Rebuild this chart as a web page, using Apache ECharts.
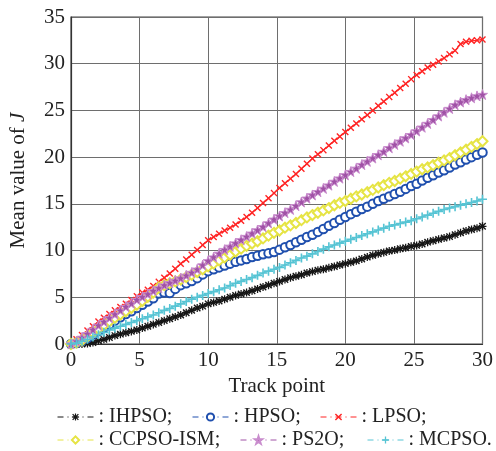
<!DOCTYPE html>
<html>
<head>
<meta charset="utf-8">
<script src="https://cdn.jsdelivr.net/npm/echarts@6/dist/echarts.min.js"></script>
<style>
  html, body { margin: 0; padding: 0; background: #fff; }
  #chart { width: 496px; height: 451px; }
</style>
</head>
<body>
<div id="chart"></div>
<script>
// Track points along the x axis
const trackPoints = [0,0.4,0.8,1.2,1.6,2,2.4,2.8,3.2,3.6,4,4.4,4.8,5.2,5.6,6,6.4,6.8,7.2,7.6,
  8,8.4,8.8,9.2,9.6,10,10.4,10.8,11.2,11.6,12,12.4,12.8,13.2,13.6,14,14.4,14.8,15.2,15.6,
  16,16.4,16.8,17.2,17.6,18,18.4,18.8,19.2,19.6,20,20.4,20.8,21.2,21.6,22,22.4,22.8,23.2,23.6,
  24,24.4,24.8,25.2,25.6,26,26.4,26.8,27.2,27.6,28,28.4,28.8,29.2,29.6,30];

// Mean value of J for each algorithm
const ihpso = [0,0,0,0.05,0.15,0.35,0.5,0.7,0.9,1.05,
  1.2,1.35,1.5,1.7,1.9,2.1,2.3,2.5,2.7,2.9,
  3.1,3.35,3.6,3.85,4.05,4.3,4.45,4.6,4.8,5.0,
  5.2,5.35,5.5,5.7,5.9,6.1,6.3,6.5,6.7,6.9,
  7.1,7.25,7.4,7.6,7.75,7.9,8.0,8.15,8.3,8.45,
  8.6,8.75,8.9,9.1,9.3,9.5,9.65,9.8,9.95,10.05,
  10.2,10.3,10.45,10.55,10.7,10.9,11.05,11.2,11.35,11.5,
  11.7,11.9,12.1,12.25,12.4,12.6];
const hpso = [0,0.1,0.35,0.65,1.0,1.4,1.75,2.1,2.5,2.85,
  3.2,3.5,3.85,4.2,4.55,4.9,5.4,5.5,5.45,5.9,
  6.3,6.5,6.75,7.05,7.45,7.8,8.0,8.2,8.4,8.6,
  8.8,8.95,9.1,9.3,9.45,9.6,9.7,9.85,10.1,10.35,
  10.6,10.9,11.15,11.45,11.7,12.0,12.3,12.65,12.95,13.3,
  13.6,13.9,14.15,14.45,14.7,15.0,15.3,15.55,15.8,16.05,
  16.3,16.6,16.9,17.15,17.5,17.8,18.05,18.35,18.6,18.9,
  19.2,19.45,19.75,20.0,20.25,20.5];
const lpso = [0,0.5,0.95,1.45,1.9,2.4,2.8,3.2,3.6,3.95,
  4.3,4.7,5.1,5.5,5.8,6.2,6.65,7.1,7.55,8.05,
  8.6,9.05,9.55,10.05,10.6,11.1,11.45,11.8,12.15,12.45,
  12.8,13.2,13.6,14.05,14.55,15.1,15.6,16.15,16.7,17.2,
  17.7,18.2,18.75,19.3,19.85,20.3,20.75,21.25,21.75,22.2,
  22.7,23.15,23.6,24.05,24.5,25.0,25.5,25.95,26.45,26.9,
  27.4,27.85,28.35,28.8,29.2,29.6,29.9,30.25,30.6,31.0,
  31.4,32.1,32.35,32.45,32.5,32.6];
const ccpsoIsm = [0,0.15,0.4,0.8,1.2,1.6,2.0,2.4,2.8,3.15,
  3.5,3.85,4.2,4.6,5.05,5.5,6.05,6.3,6.5,6.7,
  6.9,7.15,7.4,7.7,8.0,8.3,8.6,8.95,9.25,9.55,
  9.9,10.2,10.5,10.75,11.0,11.3,11.6,11.9,12.15,12.45,
  12.7,12.95,13.25,13.55,13.8,14.05,14.3,14.55,14.85,15.1,
  15.3,15.55,15.8,16.0,16.25,16.5,16.75,17.0,17.25,17.45,
  17.7,17.95,18.2,18.45,18.7,18.9,19.15,19.4,19.65,19.9,
  20.2,20.5,20.8,21.1,21.4,21.7];
const ps2o = [0,0.3,0.7,1.1,1.55,2.0,2.4,2.8,3.2,3.6,
  4.0,4.35,4.75,5.05,5.35,5.7,6.0,6.3,6.55,6.8,
  7.05,7.35,7.65,8.0,8.45,8.9,9.3,9.7,10.1,10.45,
  10.8,11.15,11.5,11.85,12.2,12.55,12.95,13.35,13.7,14.05,
  14.4,14.8,15.2,15.6,15.95,16.3,16.65,17.0,17.4,17.75,
  18.1,18.45,18.8,19.2,19.55,19.9,20.25,20.6,21.0,21.35,
  21.7,22.05,22.4,22.8,23.2,23.6,24.0,24.4,24.8,25.2,
  25.6,25.9,26.15,26.35,26.55,26.7];
const mcpso = [0,0.1,0.3,0.5,0.75,1.0,1.25,1.5,1.7,1.9,
  2.1,2.3,2.5,2.7,2.9,3.1,3.35,3.6,3.8,4.05,
  4.3,4.55,4.8,5.0,5.2,5.4,5.6,5.8,6.0,6.25,
  6.5,6.7,6.9,7.1,7.35,7.6,7.8,8.0,8.2,8.45,
  8.7,8.95,9.2,9.4,9.65,9.9,10.15,10.4,10.6,10.8,
  11.0,11.2,11.4,11.6,11.8,12.0,12.2,12.4,12.6,12.75,
  12.9,13.05,13.2,13.4,13.6,13.8,14.0,14.2,14.4,14.55,
  14.7,14.85,15.0,15.15,15.3,15.5];

const xTicks = [0, 5, 10, 15, 20, 25, 30];
const yTicks = [0, 5, 10, 15, 20, 25, 30, 35];

// Marker shapes (10x10 boxes)
const asteriskPath = 'path://M4.2,0H5.8V10H4.2Z M0,4.2H10V5.8H0Z M1.6,0.4L9.6,8.4L8.4,9.6L0.4,1.6Z M8.4,0.4L9.6,1.6L1.6,9.6L0.4,8.4Z';
const crossPath = 'path://M1.4,0L5,3.6L8.6,0L10,1.4L6.4,5L10,8.6L8.6,10L5,6.4L1.4,10L0,8.6L3.6,5L0,1.4Z';
const plusPath = 'path://M4.1,0H5.9V4.1H10V5.9H5.9V10H4.1V5.9H0V4.1H4.1Z';
const starPath = 'path://M5,0L6.18,3.62L10,3.62L6.91,5.86L8.09,9.51L5,7.27L1.91,9.51L3.09,5.86L0,3.62L3.82,3.62Z';

const serif = '"Liberation Serif", "Times New Roman", serif';

const seriesDefs = [
  { name: 'IHPSO', values: ihpso, color: '#151515', symbol: asteriskPath, size: 8, item: {} },
  { name: 'HPSO', values: hpso, color: '#1f4fae', symbol: 'emptyCircle', size: 8.5, item: { borderWidth: 1.6 } },
  { name: 'LPSO', values: lpso, color: '#ff2424', symbol: crossPath, size: 7, item: {} },
  { name: 'CCPSO-ISM', values: ccpsoIsm, color: '#e6e444', symbol: 'emptyDiamond', size: 10, item: { borderWidth: 1.6 } },
  { name: 'PS2O', values: ps2o, color: '#a052a6', symbol: starPath, size: 10, item: { borderColor: '#c98ccd', borderWidth: 1 } },
  { name: 'MCPSO', values: mcpso, color: '#56c4d4', symbol: plusPath, size: 9, item: {} }
];

const series = seriesDefs.map(d => ({
  name: d.name,
  type: 'line',
  data: trackPoints.map((x, i) => [x, d.values[i]]),
  symbol: d.symbol,
  symbolSize: d.size,
  showAllSymbol: true,
  lineStyle: { color: d.color, width: 1.2 },
  itemStyle: Object.assign({ color: d.color }, d.item),
  emphasis: { disabled: true }
}));

const legendSpots = [
  ['IHPSO', 57, 407], ['HPSO', 192, 407], ['LPSO', 320, 407],
  ['CCPSO-ISM', 57, 430], ['PS2O', 240, 430], ['MCPSO', 367, 430]
];
const legends = legendSpots.map(([name, left, top]) => ({
  data: [name],
  left, top,
  padding: 0,
  itemWidth: 36,
  itemHeight: 9,
  selectedMode: false,
  lineStyle: { type: [6, 4, 1, 4], width: 1 },
  textStyle: { fontFamily: serif, fontSize: 20, color: '#222' },
  formatter: n => ': ' + n + (n === 'MCPSO' ? '.' : ';')
}));

const chart = echarts.init(document.getElementById('chart'), null, { renderer: 'canvas' });
chart.setOption({
  animation: false,
  backgroundColor: '#fff',
  grid: { left: 69, right: 11, top: 17, bottom: 107, show: true, borderColor: '#444', borderWidth: 1.2 },
  legend: legends,
  xAxis: {
    type: 'value', min: xTicks[0], max: xTicks[xTicks.length - 1], interval: 5,
    name: 'Track point', nameLocation: 'middle', nameGap: 29,
    nameTextStyle: { fontFamily: serif, fontSize: 21, color: '#222' },
    axisLine: { lineStyle: { color: '#333', width: 1.2 } },
    axisTick: { show: false },
    axisLabel: { fontFamily: serif, fontSize: 21, color: '#222', margin: 6 },
    splitLine: { lineStyle: { color: '#6e6e6e', width: 1 } }
  },
  yAxis: {
    type: 'value', min: yTicks[0], max: yTicks[yTicks.length - 1], interval: 5,
    name: '{n|Mean value of }{j|J}', nameLocation: 'middle', nameGap: 42,
    nameTextStyle: {
      fontFamily: serif, fontSize: 21, color: '#222',
      rich: {
        n: { fontFamily: serif, fontSize: 21, color: '#222' },
        j: { fontFamily: serif, fontSize: 21, color: '#222', fontStyle: 'italic' }
      }
    },
    axisLine: { lineStyle: { color: '#333', width: 1.2 } },
    axisTick: { show: false },
    axisLabel: { fontFamily: serif, fontSize: 21, color: '#222', margin: 6 },
    splitLine: { lineStyle: { color: '#6e6e6e', width: 1 } }
  },
  series
});
</script>
</body>
</html>
